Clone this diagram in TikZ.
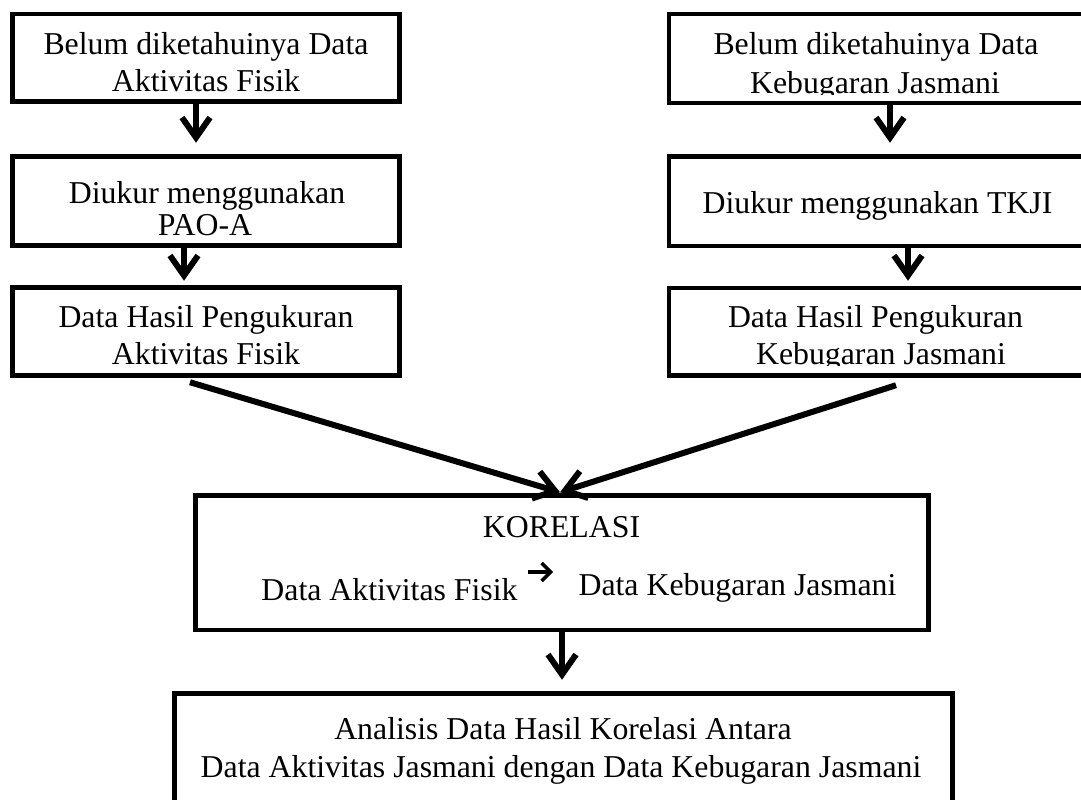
\documentclass[tikz,border=0pt]{standalone}
\usepackage{fontspec}
\setmainfont{Liberation Serif}
\usetikzlibrary{arrows.meta}
\begin{document}
\begin{tikzpicture}[x=1pt,y=-1pt,
  box/.style={draw, line width=4.5pt, rectangle, inner sep=0pt, anchor=center},
  txt/.style={anchor=base, inner sep=0pt, font=\fontsize{31.8}{37}\selectfont},
  arr/.style={line width=6pt, -{Straight Barb[length=20pt,width=28pt]}},
  smallarr/.style={line width=3.5pt, -{Straight Barb[length=9pt,width=18pt]}}]
\useasboundingbox (0,0) rectangle (1081,800);
\clip (0,0) rectangle (1081,800);
\fill[white] (0,0) rectangle (1081,800);
% boxes
\node[box, minimum width=387pt, minimum height=87.5pt] (L1) at (206,57.75) {};
\node[box, minimum width=387pt, minimum height=89pt] (L2) at (206,201) {};
\node[box, minimum width=387pt, minimum height=88pt] (L3) at (206,331.5) {};
\node[box, minimum width=421pt, minimum height=89pt] (R1) at (879.5,58.5) {};
\node[box, minimum width=421pt, minimum height=89.5pt] (R2) at (879.5,201.25) {};
\node[box, minimum width=421pt, minimum height=87.5pt] (R3) at (879.5,331.75) {};
\node[box, minimum width=733pt, minimum height=134.5pt] (K) at (562,562.75) {};
\node[box, minimum width=778pt, minimum height=126.5pt] (B) at (563.5,756.75) {};
% texts
\node[txt] (l1a) at (206,55) {Belum diketahuinya Data};
\node[txt] (l1b) at (206,92) {Aktivitas Fisik};
\node[txt] (l2a) at (207,203) {Diukur menggunakan};
\node[txt] (l2b) at (205,235) {PAO-A};
\node[txt] (l3a) at (206,327) {Data Hasil Pengukuran};
\node[txt] (l3b) at (206,364) {Aktivitas Fisik};
\node[txt] (r1a) at (876,55) {Belum diketahuinya Data};
\begin{scope}
  \clip (669,14) rectangle (1090,94);
  \node[txt] (r1b) at (875,93) {Kebugaran Jasmani};
\end{scope}
\node[txt] (r2a) at (877.5,213) {Diukur menggunakan TKJI};
\node[txt] (r3a) at (875.5,327) {Data Hasil Pengukuran};
\begin{scope}
  \clip (669,288) rectangle (1090,365.5);
  \node[txt] (r3b) at (881,364.5) {Kebugaran Jasmani};
\end{scope}
\node[txt] (k1) at (561.5,537) {KORELASI};
\node[txt] (k2) at (389.5,600) {Data Aktivitas Fisik};
\node[txt] (k3) at (737.5,595) {Data Kebugaran Jasmani};
\node[txt] (b1) at (563,739) {Analisis Data Hasil Korelasi Antara};
\node[txt] (b2) at (561,777) {Data Aktivitas Jasmani dengan Data Kebugaran Jasmani};
% small arrow inside KORELASI box
\coordinate (sa) at (528,572);
\coordinate (sb) at (553,572);
\draw[smallarr] (sa) -- (sb);
% connectors
\draw[arr] ([xshift=-10pt]L1.south) -- ([xshift=-10pt,yshift=11.5pt]L2.north);
\draw[arr] ([xshift=-22pt]L2.south) -- ([xshift=-22pt,yshift=4.5pt]L3.north);
\draw[arr] ([xshift=10.5pt]R1.south) -- ([xshift=10.5pt,yshift=11.5pt]R2.north);
\draw[arr] ([xshift=28.5pt]R2.south) -- ([xshift=28.5pt,yshift=5pt]R3.north);
\draw[arr] ([xshift=-16pt,yshift=-4.5pt]L3.south) -- ([xshift=-2pt,yshift=1pt]K.north);
\draw[arr] ([xshift=16.5pt,yshift=-7.5pt]R3.south) -- ([xshift=-2pt,yshift=1pt]K.north);
\draw[arr] (K.south) -- ([yshift=11.5pt]K.south |- B.north);
\end{tikzpicture}
\end{document}
